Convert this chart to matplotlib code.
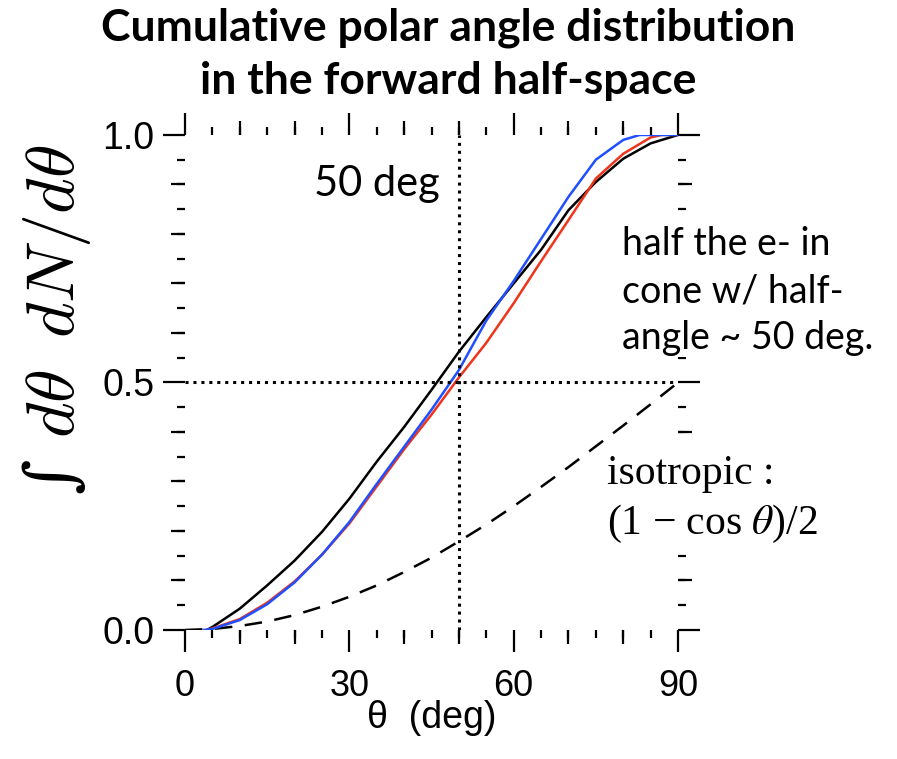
import matplotlib.pyplot as plt
from matplotlib.ticker import MultipleLocator, FixedLocator, NullFormatter

# values
theta_black = [4, 5, 10, 15, 20, 25, 30, 35, 40, 45, 50, 55, 60, 65, 70, 75, 80, 85, 90]
cum_black = [0.0, 0.006, 0.043, 0.09, 0.14, 0.198, 0.265, 0.34, 0.41, 0.485, 0.562,
             0.632, 0.70, 0.768, 0.848, 0.905, 0.952, 0.983, 1.0]

theta_red = [4, 5, 10, 15, 20, 25, 30, 35, 40, 45, 50, 55, 60, 65, 70, 75, 80, 85, 87, 90]
cum_red = [0.0, 0.003, 0.022, 0.055, 0.098, 0.152, 0.215, 0.29, 0.365, 0.435, 0.51,
           0.58, 0.66, 0.745, 0.828, 0.912, 0.962, 0.995, 1.0, 1.0]

theta_blue = [3.5, 5, 10, 15, 20, 25, 30, 35, 40, 45, 50, 55, 60, 65, 70, 75, 80, 83, 90]
cum_blue = [0.0, 0.002, 0.02, 0.052, 0.096, 0.152, 0.218, 0.295, 0.37, 0.445, 0.525,
            0.625, 0.705, 0.79, 0.875, 0.95, 0.99, 1.0, 1.0]

theta_iso = [0, 5, 10, 15, 20, 25, 30, 35, 40, 45, 50, 55, 60, 65, 70, 75, 80, 85, 90]
cum_iso = [0.0, 0.002, 0.008, 0.017, 0.03, 0.047, 0.067, 0.09, 0.117, 0.146, 0.179,
           0.213, 0.25, 0.289, 0.329, 0.371, 0.413, 0.456, 0.5]

cut_angle = 50
half = 0.5

plt.rcParams['mathtext.fontset'] = 'cm'
sans = 'Liberation Sans'

fig = plt.figure(figsize=(8.97, 7.59), dpi=100)
ax = fig.add_axes([0.2062, 0.1700, 0.5497, 0.6522])

ax.plot(theta_iso, cum_iso, color='black', lw=1.8, dashes=(7, 5))
ax.plot(theta_black, cum_black, color='black', lw=1.8)
ax.plot(theta_red, cum_red, color='#f0341c', lw=1.8)
ax.plot(theta_blue, cum_blue, color='#1f4fff', lw=1.8)

ax.plot([cut_angle, cut_angle], [0, 1], color='black', lw=2.2, linestyle=(0, (1, 1.6)))
ax.plot([0, 90], [half, half], color='black', lw=2.2, linestyle=(0, (1, 1.6)))

ax.set_xlim(0, 90)
ax.set_ylim(0, 1)
for s in ax.spines.values():
    s.set_visible(False)

ax.xaxis.set_major_locator(FixedLocator([0, 30, 60, 90]))
ax.xaxis.set_minor_locator(MultipleLocator(5))
ax.yaxis.set_major_locator(FixedLocator([0, 0.5, 1.0]))
ax.yaxis.set_minor_locator(MultipleLocator(0.05))
ax.yaxis.set_major_formatter(plt.FuncFormatter(lambda v, p: f'{v:.1f}'))
ax.tick_params(which='both', direction='out', top=True, right=True, width=1.6)
ax.tick_params(which='major', length=16)
ax.tick_params(which='minor', length=6)
ax.tick_params(axis='x', which='major', pad=12, labelsize=26)
ax.tick_params(axis='y', which='major', pad=6, labelsize=27)
for lab in ax.get_xticklabels() + ax.get_yticklabels():
    lab.set_fontfamily(sans)

# medium ticks every 10 deg / 0.1
ax2 = fig.add_axes(ax.get_position(), frameon=False)
ax2.set_xlim(0, 90)
ax2.set_ylim(0, 1)
ax2.xaxis.set_major_locator(FixedLocator([10, 20, 40, 50, 70, 80]))
ax2.yaxis.set_major_locator(FixedLocator([0.1, 0.2, 0.3, 0.4, 0.6, 0.7, 0.8, 0.9]))
ax2.xaxis.set_major_formatter(NullFormatter())
ax2.yaxis.set_major_formatter(NullFormatter())
ax2.tick_params(which='both', direction='out', top=True, right=True,
                width=1.6, length=10)
ax2.patch.set_visible(False)

ax.set_xlabel('\u03b8  (deg)', fontsize=27, fontfamily=sans, labelpad=-3)
ax.set_ylabel('\u222b $d\\theta\\;\\; dN/d\\theta$', fontsize=49,
              fontfamily='DejaVu Serif', fontstyle='italic', va='center')
ax.yaxis.set_label_coords(-0.26, 0.626)

fig.text(0.5, 0.99, 'Cumulative polar angle distribution\nin the forward half-space',
         ha='center', va='top', fontsize=32, fontweight='bold', fontfamily='Lato',
         linespacing=1.4)

ax.text(46.5, 0.9, '50 deg', ha='right', va='center', fontsize=30, fontfamily='Lato')
white = dict(facecolor='white', edgecolor='none', pad=1)
fig.text(0.693, 0.6166, 'half the e- in\ncone w/ half-\nangle ~ 50 deg.', ha='left',
         va='center', fontsize=27, fontfamily='Lato', linespacing=1.37, bbox=white,
         zorder=5)
fig.text(0.677, 0.342, 'isotropic :\n(1 \u2212 cos $\\theta$)/2', ha='left',
         va='center', fontsize=30, fontfamily='Liberation Serif', linespacing=1.32,
         math_fontfamily='stix', bbox=white, zorder=5)

fig.savefig('out.png', dpi=100)
